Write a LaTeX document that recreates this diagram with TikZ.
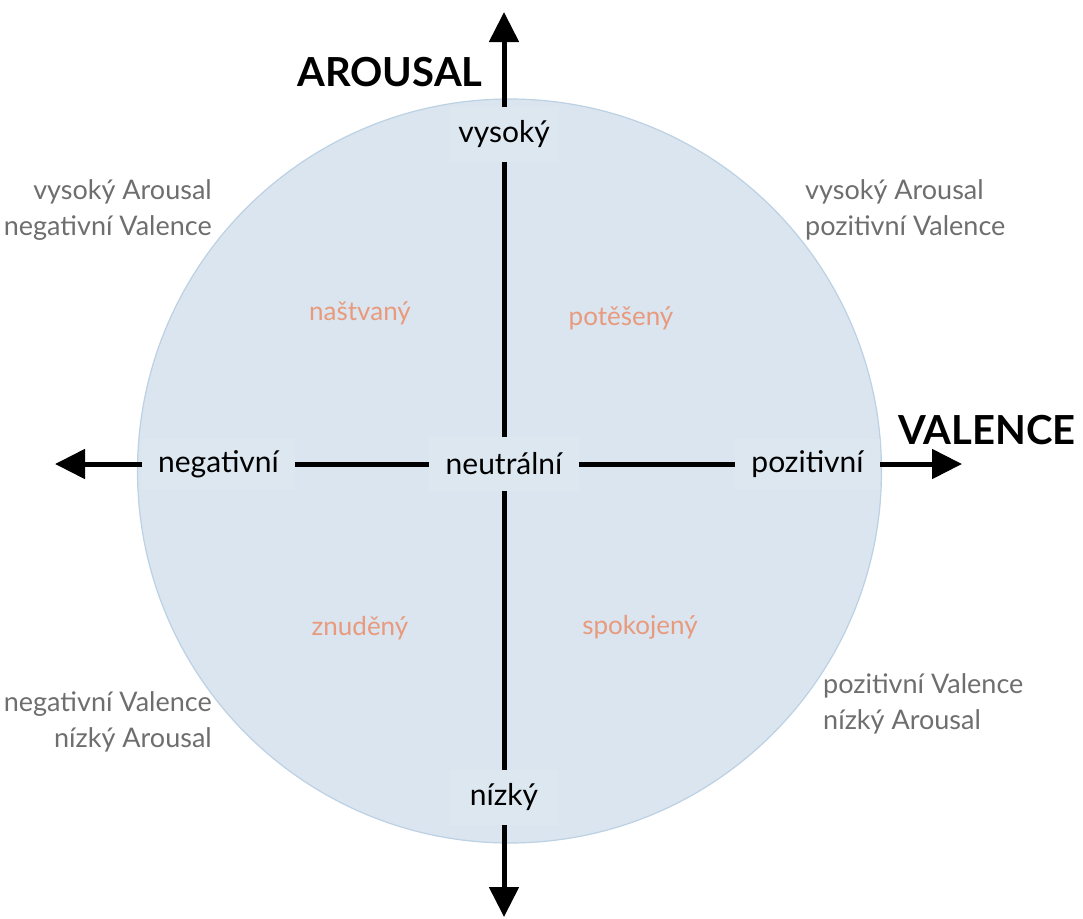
\documentclass[tikz,border=0pt]{standalone}
\usepackage{fontspec}
\setmainfont{Lato}
\usetikzlibrary{arrows.meta}
\definecolor{circfill}{HTML}{DAE5EF}
\definecolor{circedge}{HTML}{BCD1E3}
\definecolor{labelbg}{HTML}{DCE7F0}
\definecolor{greytxt}{HTML}{6E6E6E}
\definecolor{salmon}{HTML}{E99A7D}
\tikzset{
  axislabel/.style={fill=labelbg, inner sep=0pt, text=black, font=\fontsize{30}{36}\selectfont},
  quadtext/.style={text=greytxt, inner sep=0pt, font=\fontsize{27}{36}\selectfont},
  emotion/.style={text=salmon, inner sep=0pt, font=\fontsize{26}{30}\selectfont},
  axistitle/.style={text=black, inner sep=0pt, font=\bfseries\fontsize{40}{46}\selectfont},
  axisline/.style={line width=5pt, black},
  axisarrow/.style={line width=5pt, black, -{Triangle[length=30pt,width=29pt]}}
}
\begin{document}
\begin{tikzpicture}[x=1pt,y=-1pt]
\useasboundingbox (0,0) rectangle (1083,918);
\fill[circfill, draw=circedge, line width=1.2pt] (509.5,471) circle [radius=372pt];

\node[axislabel, minimum width=110pt, minimum height=55pt] (vys) at (504,134.5) {vysoký};
\node[axislabel, minimum width=150pt, minimum height=54pt] (neu) at (504,464) {neutrální};
\node[axislabel, minimum width=110pt, minimum height=55pt] (niz) at (504,797.5) {nízký};
\node[axislabel, minimum width=153pt, minimum height=50pt] (neg) at (218.5,464) {negativní};
\node[axislabel, minimum width=145pt, minimum height=50pt] (pos) at (807.5,464) {pozitivní};

\coordinate (topend) at (504,12);
\coordinate (botend) at (504,917);
\coordinate (leftend) at (55,464);
\coordinate (rightend) at (962,464);

\draw[axisarrow] (vys.north) -- (topend);
\draw[axisline] (vys.south) -- (neu.north);
\draw[axisline] (neu.south) -- (niz.north);
\draw[axisarrow] (niz.south) -- (botend);
\draw[axisarrow] (neg.west) -- (leftend);
\draw[axisline] (neg.east) -- (neu.west);
\draw[axisline] (neu.east) -- (pos.west);
\draw[axisarrow] (pos.east) -- (rightend);

\node[axistitle] (arousal) at (390,72) {AROUSAL};
\node[axistitle] (valence) at (987,430) {VALENCE};

\node[quadtext, anchor=east, align=right] (tl) at (212,210) {vysoký Arousal\\negativní Valence};
\node[quadtext, anchor=west, align=left] (tr) at (805,210) {vysoký Arousal\\pozitivní Valence};
\node[quadtext, anchor=east, align=right] (bl) at (212,722) {negativní Valence\\nízký Arousal};
\node[quadtext, anchor=west, align=left] (br) at (823,704) {pozitivní Valence\\nízký Arousal};

\node[emotion] (nastvany) at (360,313) {naštvaný};
\node[emotion] (poteseny) at (621,318) {potěšený};
\node[emotion] (znudeny) at (360,628) {znuděný};
\node[emotion] (spokojeny) at (640,627) {spokojený};
\end{tikzpicture}
\end{document}
